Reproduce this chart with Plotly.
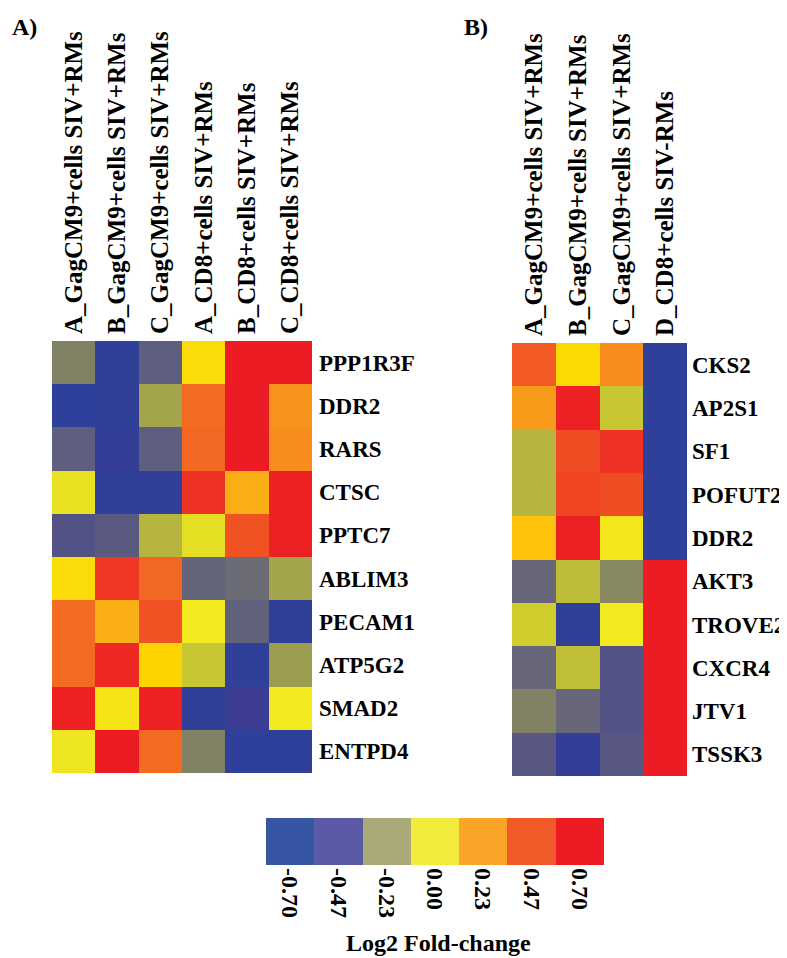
import plotly.graph_objects as go

# ---------------- data ----------------
cols_a = ["A_GagCM9+cells SIV+RMs", "B_GagCM9+cells SIV+RMs", "C_GagCM9+cells SIV+RMs",
          "A_CD8+cells SIV+RMs", "B_CD8+cells SIV+RMs", "C_CD8+cells SIV+RMs"]
genes_a = ["PPP1R3F", "DDR2", "RARS", "CTSC", "PPTC7", "ABLIM3", "PECAM1", "ATP5G2", "SMAD2", "ENTPD4"]
vals_a = [
    [-0.30, -0.68, -0.45, 0.05, 0.70, 0.70],
    [-0.70, -0.68, -0.20, 0.42, 0.70, 0.30],
    [-0.45, -0.65, -0.45, 0.43, 0.70, 0.32],
    [-0.02, -0.68, -0.68, 0.62, 0.22, 0.68],
    [-0.50, -0.47, -0.15, -0.03, 0.50, 0.68],
    [0.05, 0.60, 0.43, -0.42, -0.38, -0.20],
    [0.42, 0.22, 0.50, 0.00, -0.43, -0.68],
    [0.42, 0.65, 0.08, -0.10, -0.68, -0.22],
    [0.68, 0.02, 0.68, -0.68, -0.60, 0.00],
    [-0.01, 0.70, 0.42, -0.30, -0.70, -0.70],
]

cols_b = ["A_GagCM9+cells SIV+RMs", "B_GagCM9+cells SIV+RMs", "C_GagCM9+cells SIV+RMs",
          "D_CD8+cells SIV-RMs"]
genes_b = ["CKS2", "AP2S1", "SF1", "POFUT2", "DDR2", "AKT3", "TROVE2", "CXCR4", "JTV1", "TSSK3"]
vals_b = [
    [0.47, 0.06, 0.32, -0.70],
    [0.28, 0.68, -0.10, -0.70],
    [-0.15, 0.52, 0.62, -0.70],
    [-0.15, 0.55, 0.52, -0.70],
    [0.15, 0.68, 0.01, -0.70],
    [-0.40, -0.13, -0.28, 0.70],
    [-0.08, -0.68, 0.00, 0.70],
    [-0.40, -0.12, -0.50, 0.70],
    [-0.30, -0.40, -0.50, 0.70],
    [-0.48, -0.65, -0.48, 0.70],
]

legend_vals = [-0.70, -0.47, -0.23, 0.00, 0.23, 0.47, 0.70]
legend_labels = ["-0.70", "-0.47", "-0.23", "0.00", "0.23", "0.47", "0.70"]
legend_colors = ["#3755A5", "#5A5AA6", "#AAAA78", "#F2EB3C", "#FAA528", "#F05A28", "#ED1C24"]

ZMIN, ZMAX = -0.70, 0.70

# ---------------- styling ----------------
W, H = 787, 958
FONT = "Liberation Serif"
heat_scale = [
    [0.00, "rgb(46,64,154)"],
    [0.08, "rgb(60,60,145)"],
    [0.17, "rgb(92,92,128)"],
    [0.25, "rgb(112,112,115)"],
    [0.33, "rgb(150,150,85)"],
    [0.43, "rgb(200,200,50)"],
    [0.50, "rgb(242,233,30)"],
    [0.55, "rgb(253,215,0)"],
    [0.67, "rgb(250,170,25)"],
    [0.83, "rgb(241,92,35)"],
    [1.00, "rgb(237,28,36)"],
]
bar_scale = [[(v - ZMIN) / (ZMAX - ZMIN), c] for v, c in zip(legend_vals, legend_colors)]


def xd(a, b):
    return [a / W, b / W]


def yd(top, bottom):
    return [1 - bottom / H, 1 - top / H]


fig = go.Figure()
fig.add_trace(go.Heatmap(z=vals_a, x=cols_a, y=genes_a, colorscale=heat_scale,
                         zmin=ZMIN, zmax=ZMAX, showscale=False, xaxis="x", yaxis="y"))
fig.add_trace(go.Heatmap(z=vals_b, x=cols_b, y=genes_b, colorscale=heat_scale,
                         zmin=ZMIN, zmax=ZMAX, showscale=False, xaxis="x2", yaxis="y2"))
fig.add_trace(go.Heatmap(z=[legend_vals], x=legend_labels, y=["legend"], colorscale=bar_scale,
                         zmin=ZMIN, zmax=ZMAX, showscale=False, xaxis="x3", yaxis="y3"))

colfont = dict(family=FONT, size=25, color="black", weight="bold")
rowfont = dict(family=FONT, size=23, color="black", weight="bold")
common = dict(showgrid=False, zeroline=False, showline=False, ticks="", fixedrange=True)

fig.update_layout(
    width=W, height=H,
    margin=dict(l=0, r=0, t=0, b=0),
    paper_bgcolor="white", plot_bgcolor="white",
    xaxis=dict(domain=xd(44, 304), side="top", tickangle=-90, tickfont=colfont,
               anchor="y", ticklabelstandoff=6, **common),
    yaxis=dict(domain=yd(333, 765), side="right", autorange="reversed", tickfont=rowfont,
               anchor="x", ticklabelstandoff=6, **common),
    xaxis2=dict(domain=xd(504, 679), side="top", tickangle=-90, tickfont=colfont,
                anchor="y2", ticklabelstandoff=6, **common),
    yaxis2=dict(domain=yd(335, 768), side="right", autorange="reversed", tickfont=rowfont,
                anchor="x2", ticklabelstandoff=4, **common),
    xaxis3=dict(domain=xd(258, 596), side="bottom", tickangle=90,
                tickfont=dict(family=FONT, size=24, color="black", weight="bold"),
                anchor="y3", ticklabelstandoff=2, **common),
    yaxis3=dict(domain=yd(810, 857), showticklabels=False, anchor="x3", **common),
    annotations=[
        dict(text="A)", x=2 / W, y=1 - 4 / H, xref="paper", yref="paper", xanchor="left",
             yanchor="top", showarrow=False, font=dict(family=FONT, size=24, color="black", weight="bold")),
        dict(text="B)", x=454 / W, y=1 - 4 / H, xref="paper", yref="paper", xanchor="left",
             yanchor="top", showarrow=False, font=dict(family=FONT, size=24, color="black", weight="bold")),
        dict(text="Log2 Fold-change", x=430 / W, y=1 - 935 / H, xref="paper", yref="paper",
             xanchor="center", yanchor="middle", showarrow=False,
             font=dict(family=FONT, size=24, color="black", weight="bold")),
    ],
)

fig.write_html("out.html")
